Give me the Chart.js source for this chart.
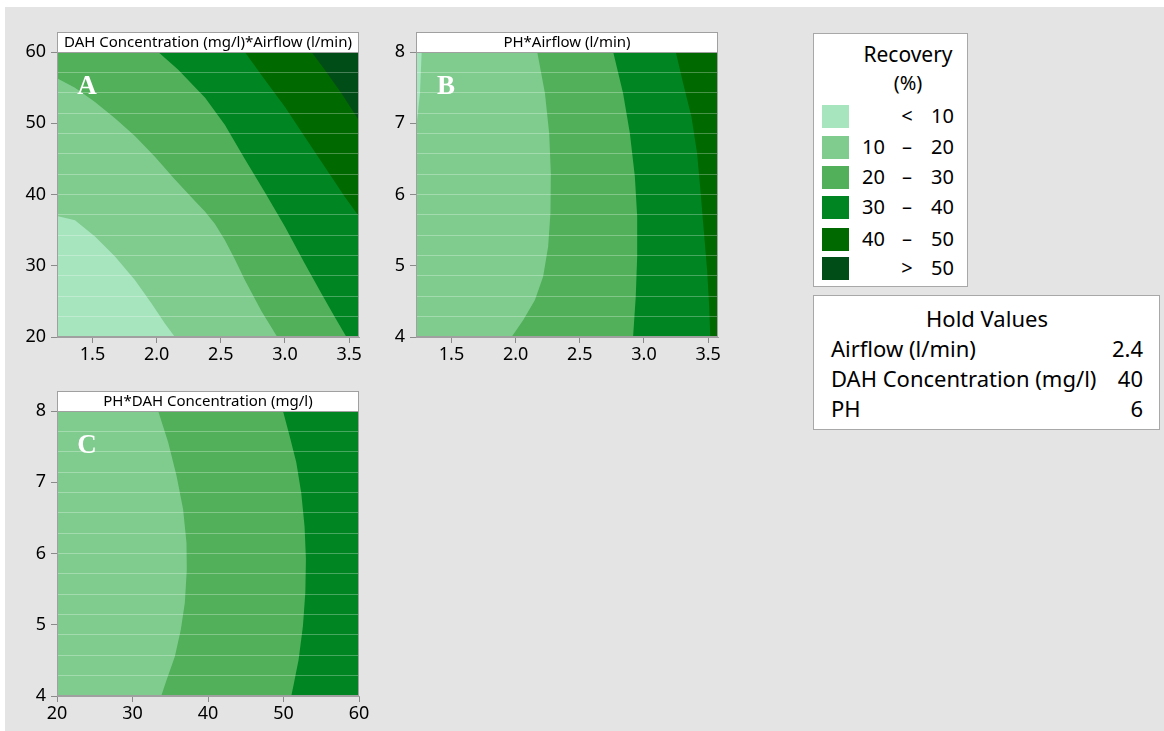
<!DOCTYPE html>
<html>
<head>
<meta charset="utf-8">
<script src="https://cdn.jsdelivr.net/npm/chart.js@4.4.1/dist/chart.umd.min.js"></script>
<style>
  body { margin: 0; background: #fff; font-family: "Noto Sans", "Open Sans", sans-serif; color: #000; }
  #page { position: absolute; left: 5px; top: 7px; right: 0; bottom: 0; background: #e4e4e4; }
  canvas { position: absolute; }
  .box { position: absolute; background: #fff; border: 1px solid #a8a8a8; box-sizing: border-box; }
  .t { position: absolute; white-space: nowrap; font-size: 20px; line-height: 1; transform: translateY(-50%); }
  #hold .t { font-size: 22px; }
  .sw { position: absolute; width: 27px; height: 23px; }
</style>
</head>
<body>
<div id="page"></div>
<canvas id="chartA" width="362" height="336" style="left:12px;top:30px"></canvas>
<canvas id="chartB" width="362" height="336" style="left:371px;top:30px"></canvas>
<canvas id="chartC" width="362" height="336" style="left:12px;top:389px"></canvas>
<div class="box" id="legend" style="left:813px;top:33px;width:155px;height:254px"></div>
<div class="box" id="hold" style="left:813px;top:295px;width:347px;height:135px"></div>

<script>
// legend levels
const levelLeft = ["", "10", "20", "30", "40", ""];
const levelMid = ["<", "–", "–", "–", "–", ">"];
const levelRight = ["10", "20", "30", "40", "50", "50"];
const levelColors = ["#a7e5bf", "#80cc8f", "#52b05a", "#008523", "#006900", "#004d17"];

// hold values
const holdNames = ["Airflow (l/min)", "DAH Concentration (mg/l)", "PH"];
const holdValues = ["2.4", "40", "6"];

// axis ranges and ticks
const airflowRange = [1.223, 3.577];
const dahRange = [20, 60];
const phRange = [4, 8];
const airflowTicks = [1.5, 2.0, 2.5, 3.0, 3.5];
const dahTicks = [20, 30, 40, 50, 60];
const phTicks = [4, 5, 6, 7, 8];
const meshRows = 14;

// panel A: DAH Concentration (y) * Airflow (x) contour lines
const a10x = [1.223, 1.363, 1.519, 1.675, 1.83, 1.96, 2.064, 2.142];
const a10y = [37.0, 36.4, 34.1, 31.3, 28.0, 24.7, 21.9, 20];
const a20x = [1.223, 1.363, 1.519, 1.675, 1.83, 1.986, 2.142, 2.298, 2.376, 2.453, 2.531, 2.609, 2.687, 2.817, 2.94];
const a20y = [56.3, 55.0, 53.0, 50.7, 48.2, 45.3, 42.1, 39.1, 37.6, 35.9, 33.6, 30.9, 28.0, 23.6, 20];
const a30x = [2.012, 2.168, 2.323, 2.376, 2.531, 2.687, 2.843, 2.999, 3.154, 3.284, 3.388, 3.479];
const a30y = [60, 57.5, 54.6, 53.6, 49.8, 45.0, 40.3, 35.5, 30.3, 26.1, 22.8, 20];
const a40x = [2.687, 2.843, 2.999, 3.154, 3.31, 3.466, 3.577];
const a40y = [60, 56.1, 52.3, 48.1, 43.9, 39.7, 36.9];
const a50x = [3.207, 3.31, 3.44, 3.577];
const a50y = [60, 57.5, 54.2, 50.4];

// panel B: PH (y) * Airflow (x) contour lines
const b10x = [1.267, 1.254, 1.223];
const b10y = [8, 7.42, 6.9];
const b20x = [2.168, 2.228, 2.261, 2.274, 2.271, 2.253, 2.214, 2.15, 2.059, 1.968];
const b20y = [8, 7.42, 6.86, 6.30, 5.74, 5.27, 4.85, 4.52, 4.24, 4];
const b30x = [2.76, 2.837, 2.89, 2.929, 2.947, 2.947, 2.936, 2.915];
const b30y = [8, 7.42, 6.86, 6.25, 5.69, 5.13, 4.57, 4];
const b40x = [3.248, 3.305, 3.37, 3.414, 3.44, 3.466, 3.492, 3.507, 3.517];
const b40y = [8, 7.56, 7.09, 6.58, 6.06, 5.5, 4.94, 4.47, 4];

// panel C: PH (y) * DAH Concentration (x) contour lines
const c20x = [33.4, 34.72, 35.83, 36.7, 37.15, 37.19, 36.93, 36.4, 35.6, 34.5, 33.8];
const c20y = [8, 7.56, 7.09, 6.62, 6.15, 5.77, 5.31, 4.93, 4.55, 4.22, 4];
const c30x = [49.93, 50.81, 51.69, 52.35, 52.79, 52.97, 52.89, 52.57, 52.0, 51.38, 51.03];
const c30y = [8, 7.65, 7.28, 6.85, 6.38, 5.92, 5.45, 4.98, 4.51, 4.18, 4];

// polygon from a contour line plus corner points of the plot
function region(xs, ys, corners) {
  const pts = xs.map((x, i) => ({ x: x, y: ys[i] }));
  corners.forEach(c => pts.push({ x: c[0], y: c[1] }));
  pts.push(pts[0]);
  return pts;
}

function fillSet(pts, level) {
  return {
    data: pts,
    showLine: true,
    fill: "shape",
    order: -level, // higher levels painted on top
    backgroundColor: levelColors[level],
    borderColor: levelColors[level],
    borderWidth: 0,
    pointRadius: 0,
    tension: 0
  };
}

const panelPlugin = {
  id: "panel",
  afterDatasetsDraw(chart, args, opts) {
    const { ctx, chartArea: a } = chart;
    ctx.save();
    ctx.fillStyle = "#fff";
    ctx.font = "bold 27px 'Liberation Serif', serif";
    ctx.textAlign = "center";
    ctx.textBaseline = "middle";
    ctx.fillText(opts.letter, a.left + 30, a.top + 35);
    ctx.restore();
  },
  afterDraw(chart, args, opts) {
    const { ctx, chartArea: a } = chart;
    ctx.save();
    ctx.strokeStyle = "#a0a0a0";
    ctx.lineWidth = 1;
    ctx.strokeRect(a.left + 0.5, a.top + 0.5, a.right - a.left - 1, a.bottom - a.top - 1);
    ctx.fillStyle = "#fff";
    ctx.fillRect(a.left, a.top - 20, a.right - a.left, 20);
    ctx.strokeRect(a.left + 0.5, a.top - 19.5, a.right - a.left - 1, 20);
    ctx.fillStyle = "#000";
    ctx.font = "15px 'Noto Sans', sans-serif";
    ctx.textAlign = "center";
    ctx.textBaseline = "middle";
    ctx.fillText(opts.title, (a.left + a.right) / 2, a.top - 9);
    ctx.restore();
  }
};

function axis(range, ticks, digits, isX) {
  return {
    type: "linear",
    min: range[0],
    max: range[1],
    afterBuildTicks: s => { s.ticks = ticks.map(v => ({ value: v })); },
    afterFit: s => {
      if (isX) { s.height = 29; } else { s.width = 45; }
    },
    ticks: {
      color: "#000",
      font: { family: "'Noto Sans', sans-serif", size: 18 },
      padding: isX ? 1 : 5,
      callback: v => v.toFixed(digits)
    },
    grid: { drawOnChartArea: false, drawTicks: true, tickLength: 6, color: "#8a8a8a" },
    border: { display: true, color: "#a0a0a0" }
  };
}

// faint horizontal lines of the contour mesh, drawn over the fills
function meshAxis(range) {
  return {
    type: "linear",
    position: "left",
    min: range[0],
    max: range[1],
    z: 1,
    afterBuildTicks: s => {
      const step = (range[1] - range[0]) / meshRows;
      s.ticks = [];
      for (let k = 1; k < meshRows; k++) s.ticks.push({ value: range[0] + k * step });
    },
    afterFit: s => { s.width = 0; },
    ticks: { display: false },
    grid: { z: 1, drawOnChartArea: true, drawTicks: false, color: "rgba(255,255,255,0.28)", lineWidth: 1 },
    border: { display: false }
  };
}

function makeChart(id, datasets, xr, xt, xd, yr, yt, yd, title, letter) {
  return new Chart(document.getElementById(id), {
    type: "scatter",
    data: { datasets: datasets },
    options: {
      responsive: false,
      animation: false,
      devicePixelRatio: 1,
      layout: { padding: { top: 22, right: 15, left: 0, bottom: 0 } },
      scales: { x: axis(xr, xt, xd, true), y: axis(yr, yt, yd, false), mesh: meshAxis(yr) },
      plugins: {
        legend: { display: false },
        tooltip: { enabled: false },
        panel: { title: title, letter: letter }
      }
    },
    plugins: [panelPlugin]
  });
}

const ax0 = airflowRange[0], ax1 = airflowRange[1];
const dy0 = dahRange[0], dy1 = dahRange[1];
const py0 = phRange[0], py1 = phRange[1];

makeChart("chartA", [
  fillSet(region([ax0, ax1, ax1, ax0], [dy0, dy0, dy1, dy1], []), 0),
  fillSet(region(a10x, a10y, [[ax1, dy0], [ax1, dy1], [ax0, dy1]]), 1),
  fillSet(region(a20x, a20y, [[ax1, dy0], [ax1, dy1], [ax0, dy1]]), 2),
  fillSet(region(a30x, a30y, [[ax1, dy0], [ax1, dy1]]), 3),
  fillSet(region(a40x, a40y, [[ax1, dy1]]), 4),
  fillSet(region(a50x, a50y, [[ax1, dy1]]), 5)
], airflowRange, airflowTicks, 1, dahRange, dahTicks, 0,
  "DAH Concentration (mg/l)*Airflow (l/min)", "A");

makeChart("chartB", [
  fillSet(region([ax0, ax1, ax1, ax0], [py0, py0, py1, py1], []), 0),
  fillSet(region(b10x, b10y, [[ax0, py0], [ax1, py0], [ax1, py1]]), 1),
  fillSet(region(b20x, b20y, [[ax1, py0], [ax1, py1]]), 2),
  fillSet(region(b30x, b30y, [[ax1, py0], [ax1, py1]]), 3),
  fillSet(region(b40x, b40y, [[ax1, py0], [ax1, py1]]), 4)
], airflowRange, airflowTicks, 1, phRange, phTicks, 0,
  "PH*Airflow (l/min)", "B");

makeChart("chartC", [
  fillSet(region([dy0, dy1, dy1, dy0], [py0, py0, py1, py1], []), 1),
  fillSet(region(c20x, c20y, [[dy1, py0], [dy1, py1]]), 2),
  fillSet(region(c30x, c30y, [[dy1, py0], [dy1, py1]]), 3)
], dahRange, dahTicks, 0, phRange, phTicks, 0,
  "PH*DAH Concentration (mg/l)", "C");

// legend and hold values boxes
function addText(parent, txt, x, y, align) {
  const el = document.createElement("div");
  el.className = "t";
  el.textContent = txt;
  if (align === "right") { el.style.right = x + "px"; }
  else if (align === "center") { el.style.left = x + "px"; el.style.transform = "translate(-50%,-50%)"; }
  else { el.style.left = x + "px"; }
  el.style.top = y + "px";
  parent.appendChild(el);
}

const legend = document.getElementById("legend");
addText(legend, "Recovery", 94, 20, "center");
addText(legend, "(%)", 94, 49, "center");
legend.children[0].style.fontSize = "21px";
const rowY = [82, 113, 143, 173, 205, 234];
levelColors.forEach((c, i) => {
  const sw = document.createElement("div");
  sw.className = "sw";
  sw.style.left = "8px";
  sw.style.top = (rowY[i] - 11.5) + "px";
  sw.style.background = c;
  legend.appendChild(sw);
  addText(legend, levelLeft[i], 153 - 71, rowY[i], "right");
  addText(legend, levelMid[i], 93, rowY[i], "center");
  addText(legend, levelRight[i], 153 - 140, rowY[i], "right");
});

const hold = document.getElementById("hold");
addText(hold, "Hold Values", 173, 22, "center");
holdNames.forEach((n, i) => {
  addText(hold, n, 17, 52 + i * 30, "left");
  addText(hold, holdValues[i], 16, 52 + i * 30, "right");
});
</script>
</body>
</html>
